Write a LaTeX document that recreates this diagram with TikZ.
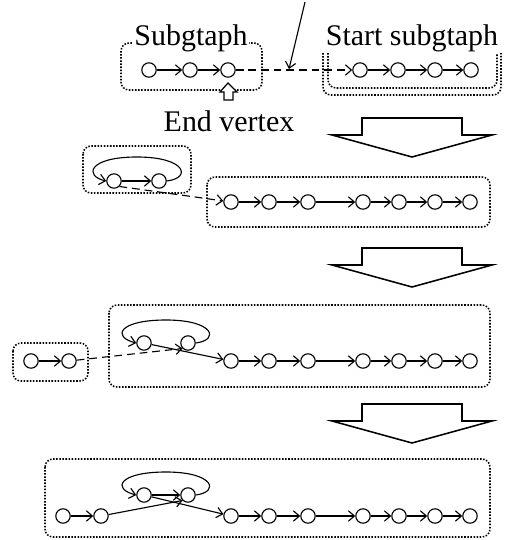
\documentclass[tikz,border=0pt]{standalone}
\usepackage{fontspec}
\setmainfont{Liberation Serif}
\usetikzlibrary{arrows.meta}

\begin{document}
\begin{tikzpicture}[x=0.025cm, y=-0.025cm, line width=0.8pt,
  vtx/.style={circle, draw, minimum size=0.36cm, inner sep=0pt},
  edge/.style={-{Straight Barb[length=1.5mm,width=2.6mm]}},
  link/.style={edge, dash pattern=on 5.5pt off 3.5pt},
  grp/.style={line width=1.1pt, dash pattern=on 1.1pt off 1.1pt, rounded corners=0.2cm},
  lbl/.style={font=\fontsize{21.3}{24}\selectfont, anchor=base, fill=white, inner sep=1pt},
  bigarrow/.style={line width=1.1pt, line join=miter}]
\useasboundingbox (0,0) rectangle (505,540);

% ---------- step 0: subgraph and start subgraph ----------
\draw[grp] (121,43) rectangle (262,90);
\draw[grp] (328,53) -- (328,88) -- (497,88) -- (497,53);
\draw[grp] (323,53) -- (323,95) -- (501,95) -- (501,53);
\node[lbl] (tsub) at (191,45) {Subgtaph};
\node[lbl] (tstart) at (412,45) {Start subgtaph};
\node[lbl] (tend) at (229,131) {End vertex};
\node[vtx] (a1) at (149,70) {};
\node[vtx] (a2) at (190,70) {};
\node[vtx] (a3) at (228,70) {};
\foreach \n/\x in {1/360,2/398,3/435,4/471}
  \node[vtx] (b\n) at (\x,70) {};
\draw[edge] (a1) -- (a2);
\draw[edge] (a2) -- (a3);
\foreach \i/\j in {1/2,2/3,3/4}
  \draw[edge] (b\i) -- (b\j);
\draw[link] (a3) -- (b1);
\coordinate (hint) at (305,2);
\coordinate (hit) at (289,69);
\draw[edge] (hint) -- (hit);
% hollow arrow onto the end vertex
\draw[line width=0.9pt, fill=white] (228,83) -- (237,92) -- (233,92) -- (233,100)
  -- (224,100) -- (224,92) -- (220,92) -- cycle;

% ---------- block arrows between the steps ----------
\foreach \t in {118,248,404}
  \draw[bigarrow] (362,\t) -- (362,\t+17) -- (332,\t+17) -- (412,\t+39)
    -- (492,\t+17) -- (462,\t+17) -- (462,\t) -- cycle;

% ---------- step 1 ----------
\draw[grp] (83,146) rectangle (191,193);
\draw[grp] (207,177) rectangle (490,227);
\node[vtx] (p1) at (114,181) {};
\node[vtx] (p2) at (159,181) {};
\draw[edge] (p1) -- (p2);
\draw[edge] (p2.east) .. controls (192,178) and (186,157) .. (137,157)
  .. controls (88,157) and (84,176) .. (p1.west);
\foreach \n/\x in {1/231,2/269,3/308,4/363,5/399,6/435,7/470}
  \node[vtx] (c\n) at (\x,202) {};
\foreach \i/\j in {1/2,2/3,3/4,4/5,5/6,6/7}
  \draw[edge] (c\i) -- (c\j);
\draw[link] (p1.south east) -- (c1);

% ---------- step 2 ----------
\draw[grp] (13,343) rectangle (88,381);
\draw[grp] (109,305) rectangle (490,387);
\node[vtx] (q1) at (31,361) {};
\node[vtx] (q2) at (69,361) {};
\draw[edge] (q1) -- (q2);
\node[vtx] (u1) at (144,343) {};
\node[vtx] (u2) at (188,343) {};
\draw[edge] (u2.east) .. controls (220,340) and (214,320) .. (166,320)
  .. controls (118,320) and (112,337) .. (u1.west);
\foreach \n/\x in {1/231,2/269,3/308,4/363,5/399,6/435,7/470}
  \node[vtx] (d\n) at (\x,361) {};
\foreach \i/\j in {1/2,2/3,3/4,4/5,5/6,6/7}
  \draw[edge] (d\i) -- (d\j);
\draw[edge] (u1) -- (d1);
\draw[link] (q2) -- (u2.south west);

% ---------- step 3: merged ----------
\draw[grp] (45,459) rectangle (490,537);
\node[vtx] (v1) at (144,495) {};
\node[vtx] (v2) at (188,495) {};
\draw[edge] (v1) -- (v2);
\draw[edge] (v2.east) .. controls (220,492) and (214,472) .. (166,472)
  .. controls (118,472) and (112,489) .. (v1.west);
\node[vtx] (e1) at (63,516) {};
\node[vtx] (e2) at (101,516) {};
\draw[edge] (e1) -- (e2);
\foreach \n/\x in {1/231,2/269,3/308,4/363,5/399,6/435,7/470}
  \node[vtx] (f\n) at (\x,516) {};
\foreach \i/\j in {1/2,2/3,3/4,4/5,5/6,6/7}
  \draw[edge] (f\i) -- (f\j);
\draw[edge] (e2) -- (v2.south west);
\draw[edge] (v1) -- (f1);
\end{tikzpicture}
\end{document}
